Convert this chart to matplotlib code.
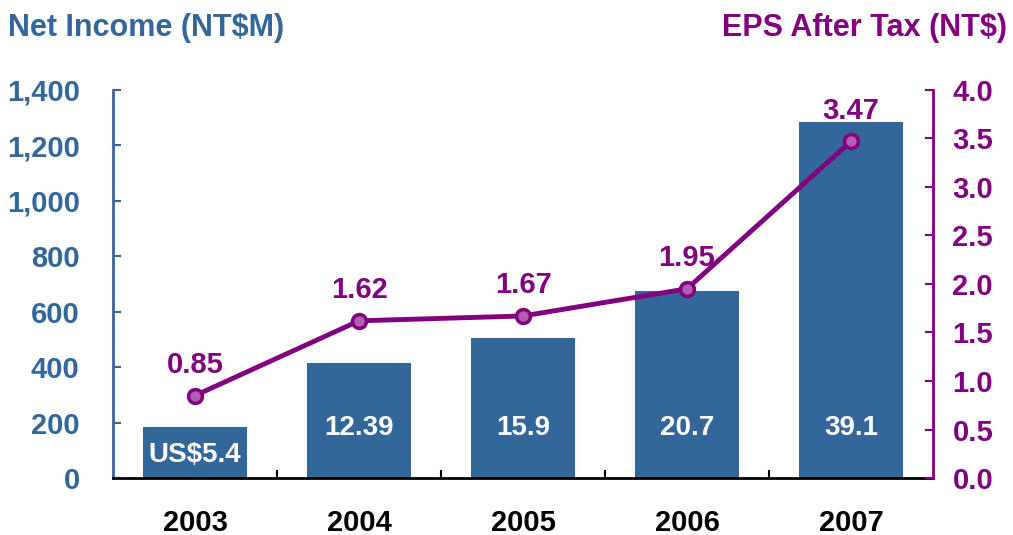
import matplotlib.pyplot as plt
import numpy as np

plt.rcParams["font.family"] = ["Liberation Sans", "DejaVu Sans"]
plt.rcParams["font.weight"] = "bold"

# ── Data ──────────────────────────────────────────────────────────────────────
years = ["2003", "2004", "2005", "2006", "2007"]
net_income = [185, 415, 505, 675, 1285]          # NT$M (bar height)
bar_labels = ["US$5.4", "12.39", "15.9", "20.7", "39.1"]
eps = [0.85, 1.62, 1.67, 1.95, 3.47]
eps_labels = ["0.85", "1.62", "1.67", "1.95", "3.47"]
left_ticks = [0, 200, 400, 600, 800, 1000, 1200, 1400]
right_ticks = [0.0, 0.5, 1.0, 1.5, 2.0, 2.5, 3.0, 3.5, 4.0]

BLUE = "#336699"
PURPLE = "#800080"

fig = plt.figure(figsize=(10.13, 5.35), dpi=100)
ax = fig.add_axes([0.1116, 0.1065, 0.8094, 0.7255])
ax2 = ax.twinx()

x = np.arange(len(years))

# ── Bars ──────────────────────────────────────────────────────────────────────
ax.bar(x, net_income, width=0.63, color=BLUE, zorder=2)
for xi, h, lab in zip(x, net_income, bar_labels):
    ax.text(xi, min(h * 0.45, 180), lab, ha="center", va="center",
            color="white", fontsize=20, fontweight="bold")

ax.set_xlim(-0.5, len(years) - 0.5)
ax.set_ylim(0, 1400)
ax.set_yticks(left_ticks)
ax.set_yticklabels([f"{v:,}" for v in left_ticks])
ax.tick_params(axis="y", direction="in", length=6, width=1.5, colors=BLUE,
               labelsize=21, pad=24)
ax.set_xticks(x)
ax.set_xticklabels(years)
ax.tick_params(axis="x", length=0, labelsize=21, pad=22, labelcolor="black")
ax.set_xticks(x[:-1] + 0.5, minor=True)
ax.tick_params(axis="x", which="minor", direction="in", length=6, width=1.5,
               color="black")

for s in ["top", "right"]:
    ax.spines[s].set_visible(False)
ax.spines["left"].set_color(BLUE)
ax.spines["left"].set_linewidth(2)
ax.spines["bottom"].set_color("black")
ax.spines["bottom"].set_linewidth(2)

# ── EPS line ──────────────────────────────────────────────────────────────────
ax2.plot(x, eps, color=PURPLE, linewidth=3.5, marker="o", markersize=10,
         markerfacecolor="#b060b0", markeredgecolor=PURPLE,
         markeredgewidth=2.5, zorder=3)
for xi, v, lab in zip(x, eps, eps_labels):
    ax2.annotate(lab, (xi, v), xytext=(0, 12), textcoords="offset points",
                 ha="center", va="bottom", color=PURPLE, fontsize=21,
                 fontweight="bold")

ax2.set_ylim(0, 4.0)
ax2.set_yticks(right_ticks)
ax2.set_yticklabels([f"{v:.1f}" for v in right_ticks])
ax2.tick_params(axis="y", direction="in", length=6, width=1.5, colors=PURPLE,
                labelsize=21, pad=14)
for s in ["top", "left", "bottom"]:
    ax2.spines[s].set_visible(False)
ax2.spines["right"].set_color(PURPLE)
ax2.spines["right"].set_linewidth(2)

for lab in ax.get_yticklabels() + ax.get_xticklabels() + ax2.get_yticklabels():
    lab.set_fontweight("bold")

# ── Axis titles ───────────────────────────────────────────────────────────────
fig.text(8 / 1013, 1 - 28 / 535, "Net Income (NT$M)", ha="left", va="center",
         color=BLUE, fontsize=22, fontweight="bold")
fig.text(1007 / 1013, 1 - 28 / 535, "EPS After Tax (NT$)", ha="right",
         va="center", color=PURPLE, fontsize=22, fontweight="bold")

fig.savefig("out.png", dpi=100)
